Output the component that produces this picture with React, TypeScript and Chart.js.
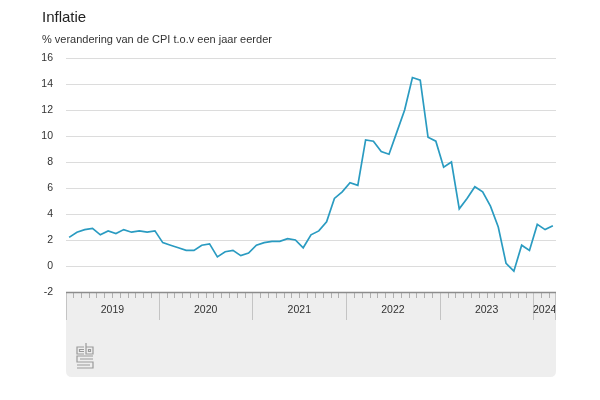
import React, { useEffect, useRef } from "react";
import { Chart, registerables } from "chart.js";

Chart.register(...registerables);

const FONT = "'Liberation Sans', Arial, Helvetica, sans-serif";

const chartTitle = "Inflatie";
const chartSubtitle = "% verandering van de CPI t.o.v een jaar eerder";
const yearLabels = ["2019", "2020", "2021", "2022", "2023", "2024"];
const monthsInYear = [12, 12, 12, 12, 12, 3];
// CPI year-on-year % change, Jan 2019 – Mar 2024
const inflation = [
  2.2, 2.6, 2.8, 2.9, 2.4, 2.7, 2.5, 2.8, 2.6, 2.7, 2.6, 2.7,
  1.8, 1.6, 1.4, 1.2, 1.2, 1.6, 1.7, 0.7, 1.1, 1.2, 0.8, 1.0,
  1.6, 1.8, 1.9, 1.9, 2.1, 2.0, 1.4, 2.4, 2.7, 3.4, 5.2, 5.7,
  6.4, 6.2, 9.7, 9.6, 8.8, 8.6, 10.3, 12.0, 14.5, 14.3, 9.9, 9.6,
  7.6, 8.0, 4.4, 5.2, 6.1, 5.7, 4.6, 3.0, 0.2, -0.4, 1.6, 1.2,
  3.2, 2.8, 3.1,
];
const yMin = -2;
const yMax = 16;
const yStep = 2;

const X_MIN = -0.4;
const X_MAX = inflation.length - 1 + 0.4;

const decorPlugin = {
  id: "cbsDecor",
  afterDraw(chart: any) {
    const ctx = chart.ctx as CanvasRenderingContext2D;
    const xs = chart.scales.x;
    const area = chart.chartArea;
    const left = area.left;
    const right = area.right;
    const top = area.bottom;
    const bottom = 377;
    const r = 6;

    ctx.save();
    // titles
    ctx.fillStyle = "#222";
    ctx.textBaseline = "alphabetic";
    ctx.textAlign = "left";
    ctx.font = `15px ${FONT}`;
    ctx.fillText(chartTitle, 42, 22);
    ctx.fillStyle = "#333";
    ctx.font = `11px ${FONT}`;
    ctx.fillText(chartSubtitle, 42, 43);

    // grey panel
    ctx.fillStyle = "#eeeeee";
    ctx.beginPath();
    ctx.moveTo(left, top);
    ctx.lineTo(right, top);
    ctx.lineTo(right, bottom - r);
    ctx.quadraticCurveTo(right, bottom, right - r, bottom);
    ctx.lineTo(left + r, bottom);
    ctx.quadraticCurveTo(left, bottom, left, bottom - r);
    ctx.closePath();
    ctx.fill();

    // minor month ticks
    ctx.strokeStyle = "#b0b0b0";
    ctx.lineWidth = 1;
    for (let i = 1; i < inflation.length; i++) {
      if (i % 12 === 0) continue;
      const px = Math.round(xs.getPixelForValue(i - 0.5)) + 0.5;
      ctx.beginPath();
      ctx.moveTo(px, top);
      ctx.lineTo(px, top + 6);
      ctx.stroke();
    }
    // year separators and labels
    ctx.strokeStyle = "#c4c4c4";
    ctx.fillStyle = "#333";
    ctx.font = `10.5px ${FONT}`;
    ctx.textAlign = "center";
    ctx.textBaseline = "middle";
    let start = 0;
    yearLabels.forEach((lab, k) => {
      const s = Math.max(start - 0.5, X_MIN);
      const e = Math.min(start + monthsInYear[k] - 0.5, X_MAX);
      const ps = xs.getPixelForValue(s);
      const pe = xs.getPixelForValue(e);
      const lx = Math.round(ps) + 0.5;
      ctx.beginPath();
      ctx.moveTo(lx, top);
      ctx.lineTo(lx, top + 28);
      ctx.stroke();
      ctx.fillText(lab, (ps + pe) / 2, top + 18);
      start += monthsInYear[k];
    });
    const rx = Math.round(xs.getPixelForValue(X_MAX)) - 0.5;
    ctx.beginPath();
    ctx.moveTo(rx, top);
    ctx.lineTo(rx, top + 28);
    ctx.stroke();

    // axis line
    ctx.strokeStyle = "#8c8c8c";
    ctx.lineWidth = 1.5;
    ctx.beginPath();
    ctx.moveTo(left, top + 0.5);
    ctx.lineTo(right, top + 0.5);
    ctx.stroke();

    // cbs logo (simplified)
    ctx.strokeStyle = "#9a9a9a";
    ctx.lineWidth = 1.2;
    const L = 77, T = 343;
    ctx.beginPath();
    // c
    ctx.moveTo(L + 7, T + 4); ctx.lineTo(L, T + 4); ctx.lineTo(L, T + 11); ctx.lineTo(L + 7, T + 11);
    ctx.moveTo(L + 7, T + 6.5); ctx.lineTo(L + 2.5, T + 6.5); ctx.lineTo(L + 2.5, T + 8.5); ctx.lineTo(L + 7, T + 8.5);
    // b
    ctx.moveTo(L + 9, T); ctx.lineTo(L + 9, T + 11); ctx.lineTo(L + 16, T + 11); ctx.lineTo(L + 16, T + 4); ctx.lineTo(L + 9, T + 4);
    ctx.rect(L + 11.5, T + 6.5, 2, 2);
    // S
    ctx.moveTo(L + 16, T + 13); ctx.lineTo(L, T + 13); ctx.lineTo(L, T + 19); ctx.lineTo(L + 16, T + 19); ctx.lineTo(L + 16, T + 25); ctx.lineTo(L, T + 25);
    ctx.moveTo(L + 16, T + 16); ctx.lineTo(L + 3, T + 16);
    ctx.moveTo(L, T + 22); ctx.lineTo(L + 13, T + 22);
    ctx.stroke();
    ctx.restore();
  },
};

export default function App() {
  const ref = useRef<HTMLCanvasElement>(null);
  useEffect(() => {
    if (!ref.current) return;
    const chart = new Chart(ref.current, {
      type: "line",
      data: {
        datasets: [
          {
            label: "Inflatie",
            data: inflation.map((v, i) => ({ x: i, y: v })),
            borderColor: "#2a9bc1",
            borderWidth: 1.7,
            pointRadius: 0,
            tension: 0,
            fill: false,
          },
        ],
      },
      options: {
        animation: false,
        responsive: false,
        devicePixelRatio: 1,
        layout: { padding: { left: 42, right: 44, top: 58, bottom: 108 } },
        plugins: {
          legend: { display: false },
          tooltip: { enabled: false },
          title: { display: false },
        },
        scales: {
          x: {
            type: "linear",
            min: X_MIN,
            max: X_MAX,
            display: false,
          },
          y: {
            min: yMin,
            max: yMax,
            afterFit: (s: any) => {
              s.width = 24;
            },
            ticks: {
              stepSize: yStep,
              color: "#333",
              padding: 13,
              font: { family: FONT, size: 10.5 },
            },
            grid: {
              drawTicks: false,
              color: (c: any) => (c.tick && c.tick.value === yMin ? "rgba(0,0,0,0)" : "#dcdcdc"),
              lineWidth: 1,
            },
            border: { display: false },
          },
        },
      },
      plugins: [decorPlugin],
    });
    return () => chart.destroy();
  }, []);
  return (
    <div style={{ position: "fixed", left: 0, top: 0, width: 600, height: 400, background: "#fff" }}>
      <canvas ref={ref} width={600} height={400} />
    </div>
  );
}
